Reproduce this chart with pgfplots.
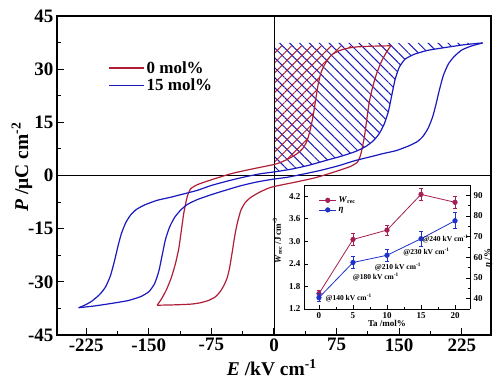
\documentclass[border=0pt]{standalone}
\usepackage{fontspec}
\setmainfont{Liberation Serif}
\usepackage{pgfplots}
\pgfplotsset{compat=1.18}
\usetikzlibrary{patterns.meta}
\definecolor{cred}{RGB}{175,30,55}
\definecolor{cblue}{RGB}{25,25,190}
\definecolor{ired}{RGB}{165,30,85}
\definecolor{iblue}{RGB}{30,50,200}
\begin{document}
\begin{tikzpicture}
\useasboundingbox (-57pt,-52pt) rectangle (443pt,335pt);
\begin{axis}[
  at={(0pt,0pt)}, anchor=south west, scale only axis,
  width=434pt, height=319pt,
  xmin=-260, xmax=260, ymin=-45, ymax=45,
  xtick={-225,-150,...,225}, ytick={-45,-30,...,45},
  minor x tick num=1, minor y tick num=1,
  tick align=inside, xtick pos=left, ytick pos=left,
  major tick length=7pt, minor tick length=4pt,
  axis line style={line width=1.1pt},
  tick style={line width=1.1pt, black},
  /pgf/number format/assume math mode=true,
  ticklabel style={font=\fontsize{19}{19}\selectfont\bfseries},
  xlabel={\textbf{\textit{E} /kV cm\textsuperscript{-1}}},
  ylabel={\textbf{\textit{P} /μC cm\textsuperscript{-2}}},
  label style={font=\fontsize{19.5}{20}\selectfont},
  xlabel style={at={(axis description cs:0.495,-0.103)}, anchor=center},
  ylabel style={at={(axis description cs:-0.081,0.527)}, anchor=center, rotate=0},
  legend style={at={(axis description cs:0.118,0.865)}, anchor=north west,
    draw=none, fill=none, font=\fontsize{17}{19}\selectfont\bfseries,
    row sep=0pt, inner sep=0pt},
  legend cell align=left,
  legend image code/.code={\draw[#1] (0pt,0pt) -- (35pt,0pt);},
]
% hatched recoverable energy areas
\addplot[forget plot, draw=none, pattern={Lines[angle=-45,distance=7pt,line width=1pt]}, pattern color=cblue]
coordinates {(0,1.0)(21,1.8)(42,2.9)(63,4.3)(80,5.4)(98,6.8)(110,8.2)(119,9.8)(126,11.8)(132,14.5)(137,18)(141,22.5)(145,27)(150,30.5)(157,32.8)(168,34.2)(184,35.3)(205,36.1)(228,36.9)(250,37.4)(0,37.4)(0,1.0)};
\addplot[forget plot, draw=none, pattern={Lines[angle=45,distance=7pt,line width=1pt]}, pattern color=cred]
coordinates {(0,3.1)(8,3.7)(18,4.8)(28,6.2)(35,7.8)(40,10)(44,13.5)(47,17)(50,21.5)(53,25.8)(56,28.8)(60,31)(64,32.6)(70,34.2)(78,35.2)(88,35.9)(100,36.3)(120,36.5)(140,36.6)(0,36.6)(0,3.1)};
% zero lines
\addplot[forget plot, black, line width=0.8pt] coordinates {(-260,0)(260,0)};
\addplot[forget plot, black, line width=0.8pt] coordinates {(0,-45)(0,45)};
% 0 mol%
\addplot[cred, line width=1.2pt, smooth, tension=0.35]
coordinates {(140,36.6)(120,36.5)(100,36.3)(88,35.9)(78,35.2)(70,34.2)(64,32.6)(60,31)(56,28.8)(53,25.8)(50,21.5)(47,17)(44,13.5)(40,10)(35,7.8)(28,6.2)(18,4.8)(8,3.7)(0,3.1)(-25,1.9)(-50,0.6)(-75,-1.2)(-92,-2.6)(-100,-3.8)(-104,-6)(-108,-10.5)(-111,-15.5)(-114,-20.5)(-118,-24.8)(-123,-28.8)(-129,-32.3)(-135,-34.9)(-140,-36.6)};
\addlegendentry{0 mol\%}
\addplot[forget plot, cred, line width=1.2pt, smooth, tension=0.35]
coordinates {(-140,-36.6)(-120,-36.5)(-100,-36.3)(-88,-35.9)(-78,-35.2)(-70,-34.2)(-64,-32.6)(-60,-31)(-56,-28.8)(-53,-25.8)(-50,-21.5)(-47,-17)(-44,-13.5)(-40,-10)(-35,-7.8)(-28,-6.2)(-18,-4.8)(-8,-3.7)(0,-3.1)(25,-1.9)(50,-0.6)(75,1.2)(92,2.6)(100,3.8)(104,6)(108,10.5)(111,15.5)(114,20.5)(118,24.8)(123,28.8)(129,32.3)(135,34.9)(140,36.6)};
% 15 mol%
\addplot[cblue, line width=1.2pt, smooth, tension=0.35]
coordinates {(250,37.4)(228,36.9)(205,36.1)(184,35.3)(168,34.2)(157,32.8)(150,30.5)(145,27)(141,22.5)(137,18)(132,14.5)(126,11.8)(119,9.8)(110,8.2)(98,6.8)(80,5.4)(63,4.3)(42,2.9)(21,1.8)(0,1.0)(-16,0.5)(-35,-0.4)(-53,-1.4)(-75,-2.8)(-92,-4.2)(-110,-5.3)(-125,-6.2)(-140,-7.0)(-155,-8.3)(-165,-9.6)(-172,-11.2)(-178,-13.5)(-183,-16.5)(-187,-20)(-191,-24)(-196,-28.3)(-202,-31.5)(-209,-33.6)(-218,-35.4)(-226,-36.5)(-234,-37.3)};
\addlegendentry{15 mol\%}
\addplot[forget plot, cblue, line width=1.2pt, smooth, tension=0.35]
coordinates {(-234,-37.3)(-215,-36.8)(-195,-36.1)(-175,-35.3)(-160,-34.2)(-150,-32.8)(-143,-30.5)(-138,-27)(-134,-22.5)(-130,-18)(-125,-14.5)(-119,-11.8)(-112,-9.8)(-104,-8.2)(-92,-6.8)(-75,-5.4)(-60,-4.3)(-40,-2.9)(-20,-1.8)(0,-1.0)(16,-0.5)(35,0.4)(55,1.4)(78,2.8)(97,4.2)(116,5.3)(131,6.2)(146,7.0)(161,8.3)(172,9.6)(179,11.2)(185,13.5)(190,16.5)(194,20)(198,24)(203,28.3)(209,31.5)(216,33.6)(225,35.4)(236,36.5)(250,37.4)};
\end{axis}
% inset: W_rec
\begin{axis}[
  at={(247pt,26pt)}, anchor=south west, scale only axis,
  width=166pt, height=124pt,
  xmin=-2.2, xmax=22.2, ymin=1.2, ymax=4.5,
  xtick={0,5,...,20}, ytick={1.2,1.8,...,4.2}, minor x tick num=1,
  axis y line*=left, xtick pos=left,
  tick align=inside, major tick length=4pt, minor tick length=2pt,
  axis line style={line width=0.9pt}, tick style={line width=0.8pt, black},
  axis background/.style={fill=white},
  /pgf/number format/assume math mode=true,
  ticklabel style={font=\fontsize{9}{9}\selectfont\bfseries},
  yticklabel style={/pgf/number format/fixed, /pgf/number format/fixed zerofill, /pgf/number format/precision=1},
  xlabel={\textbf{Ta /mol\%}},
  ylabel={\textbf{\textit{W}\textsubscript{rec} /J cm\textsuperscript{-3}}},
  label style={font=\fontsize{9}{10}\selectfont},
  xlabel style={at={(axis description cs:0.5,-0.115)}, anchor=center},
  ylabel style={at={(axis description cs:-0.16,0.55)}, anchor=center},
  legend style={at={(axis description cs:0.07,0.94)}, anchor=north west,
    draw=none, fill=none, font=\fontsize{9}{10}\selectfont\bfseries, row sep=-1pt},
  legend cell align=left,
]
\addplot[ired, line width=0.8pt, mark=*, mark size=2.2pt,
  error bars/.cd, y dir=both, y explicit, error bar style={line width=0.8pt}, error mark options={rotate=90, mark size=2pt, line width=0.8pt}]
coordinates {(0,1.61) +- (0,0.08) (5,3.05) +- (0,0.15) (10,3.30) +- (0,0.13) (15,4.25) +- (0,0.16) (20,4.04) +- (0,0.15)};
\addlegendentry{\textit{W}\textsubscript{rec}}
\addlegendimage{iblue, line width=0.8pt, mark=*, mark size=2.2pt}
\addlegendentry{\textit{η}}
\end{axis}
% inset: efficiency
\begin{axis}[
  at={(247pt,26pt)}, anchor=south west, scale only axis,
  width=166pt, height=124pt,
  xmin=-2.2, xmax=22.2, ymin=35, ymax=95,
  axis y line*=right, axis x line=none,
  ytick={40,50,...,90}, minor y tick num=1,
  tick align=inside, major tick length=4pt, minor tick length=2pt,
  axis line style={line width=0.9pt}, tick style={line width=0.8pt, black},
  /pgf/number format/assume math mode=true,
  ticklabel style={font=\fontsize{9}{9}\selectfont\bfseries},
  ylabel={\textbf{\textit{η} /\%}},
  label style={font=\fontsize{9}{10}\selectfont},
  ylabel style={at={(axis description cs:1.11,0.41)}, anchor=center},
]
\addplot[iblue, line width=0.8pt, mark=*, mark size=2.2pt,
  error bars/.cd, y dir=both, y explicit, error bar style={line width=0.8pt}, error mark options={rotate=90, mark size=2pt, line width=0.8pt}]
coordinates {(0,40.5) +- (0,2) (5,57.5) +- (0,3) (10,61) +- (0,3) (15,69) +- (0,3.5) (20,77.7) +- (0,3.8)};
\node[anchor=west, font=\fontsize{7.5}{8}\selectfont\bfseries, inner sep=1pt] at (axis cs:0.8,40.3) {@140 kV cm\textsuperscript{-1}};
\node[anchor=west, font=\fontsize{7.5}{8}\selectfont\bfseries, inner sep=1pt] at (axis cs:4.8,50.3) {@180 kV cm\textsuperscript{-1}};
\node[anchor=center, font=\fontsize{7.5}{8}\selectfont\bfseries, inner sep=1pt] at (axis cs:11.6,55.5) {@210 kV cm\textsuperscript{-1}};
\node[anchor=center, font=\fontsize{7.5}{8}\selectfont\bfseries, inner sep=1pt] at (axis cs:15.8,62.5) {@230 kV cm\textsuperscript{-1}};
\node[anchor=center, font=\fontsize{7.5}{8}\selectfont\bfseries, inner sep=1pt] at (axis cs:18.6,69) {@240 kV cm\textsuperscript{-1}};
\end{axis}
\end{tikzpicture}
\end{document}
